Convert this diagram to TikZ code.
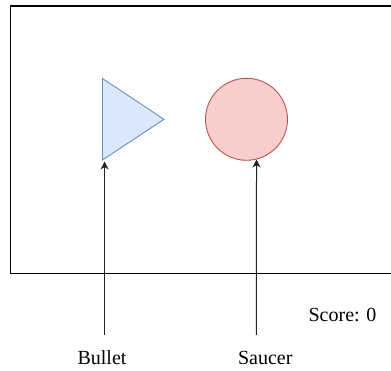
\documentclass[tikz,border=0pt]{standalone}
\usepackage{fontspec}
\setmainfont{Liberation Serif}
\usetikzlibrary{arrows.meta}
\definecolor{bulletfill}{HTML}{DAE8FC}
\definecolor{bulletline}{HTML}{6C8EBF}
\definecolor{saucerfill}{HTML}{F8CECC}
\definecolor{saucerline}{HTML}{B85450}
\definecolor{arrowcol}{HTML}{222222}
\begin{document}
\begin{tikzpicture}[x=1pt,y=-1pt,
  frame/.style={draw=black,line width=1.4pt},
  pointer/.style={draw=arrowcol,line width=1pt,-{Stealth[length=8pt,width=8pt,inset=2.5pt]}},
  lbl/.style={font=\fontsize{20}{24}\selectfont,anchor=base,inner sep=0pt,text=black}]
\useasboundingbox (0,0) rectangle (391,371);
% screen frame
\draw[frame] (391,6) -- (10.5,6) -- (10.5,273.5) -- (391,273.5);
% bullet triangle
\coordinate (ttop) at (102.5,78.5);
\coordinate (tbot) at (102.5,160);
\coordinate (tapex) at (164,119.3);
\filldraw[fill=bulletfill,draw=bulletline,line width=0.9pt,line join=miter] (ttop) -- (tapex) -- (tbot) -- cycle;
\coordinate (bullettip) at (104.6,161.5);
% saucer circle
\node[circle,draw=saucerline,fill=saucerfill,line width=0.9pt,minimum size=82pt,inner sep=0pt] (saucer) at (246.5,119.3) {};
% labels
\node[lbl] (bulletlbl) at (102,364) {Bullet};
\node[lbl] (saucerlbl) at (265.3,364) {Saucer};
\node[lbl] (score) at (342.5,321.7) {Score: 0};
% arrows
\coordinate (bstart) at (104.6,335);
\coordinate (sstart) at (256.3,335);
\draw[pointer] (bstart) -- (bullettip);
\draw[pointer] (sstart) -- (saucer.-76);
\end{tikzpicture}
\end{document}
